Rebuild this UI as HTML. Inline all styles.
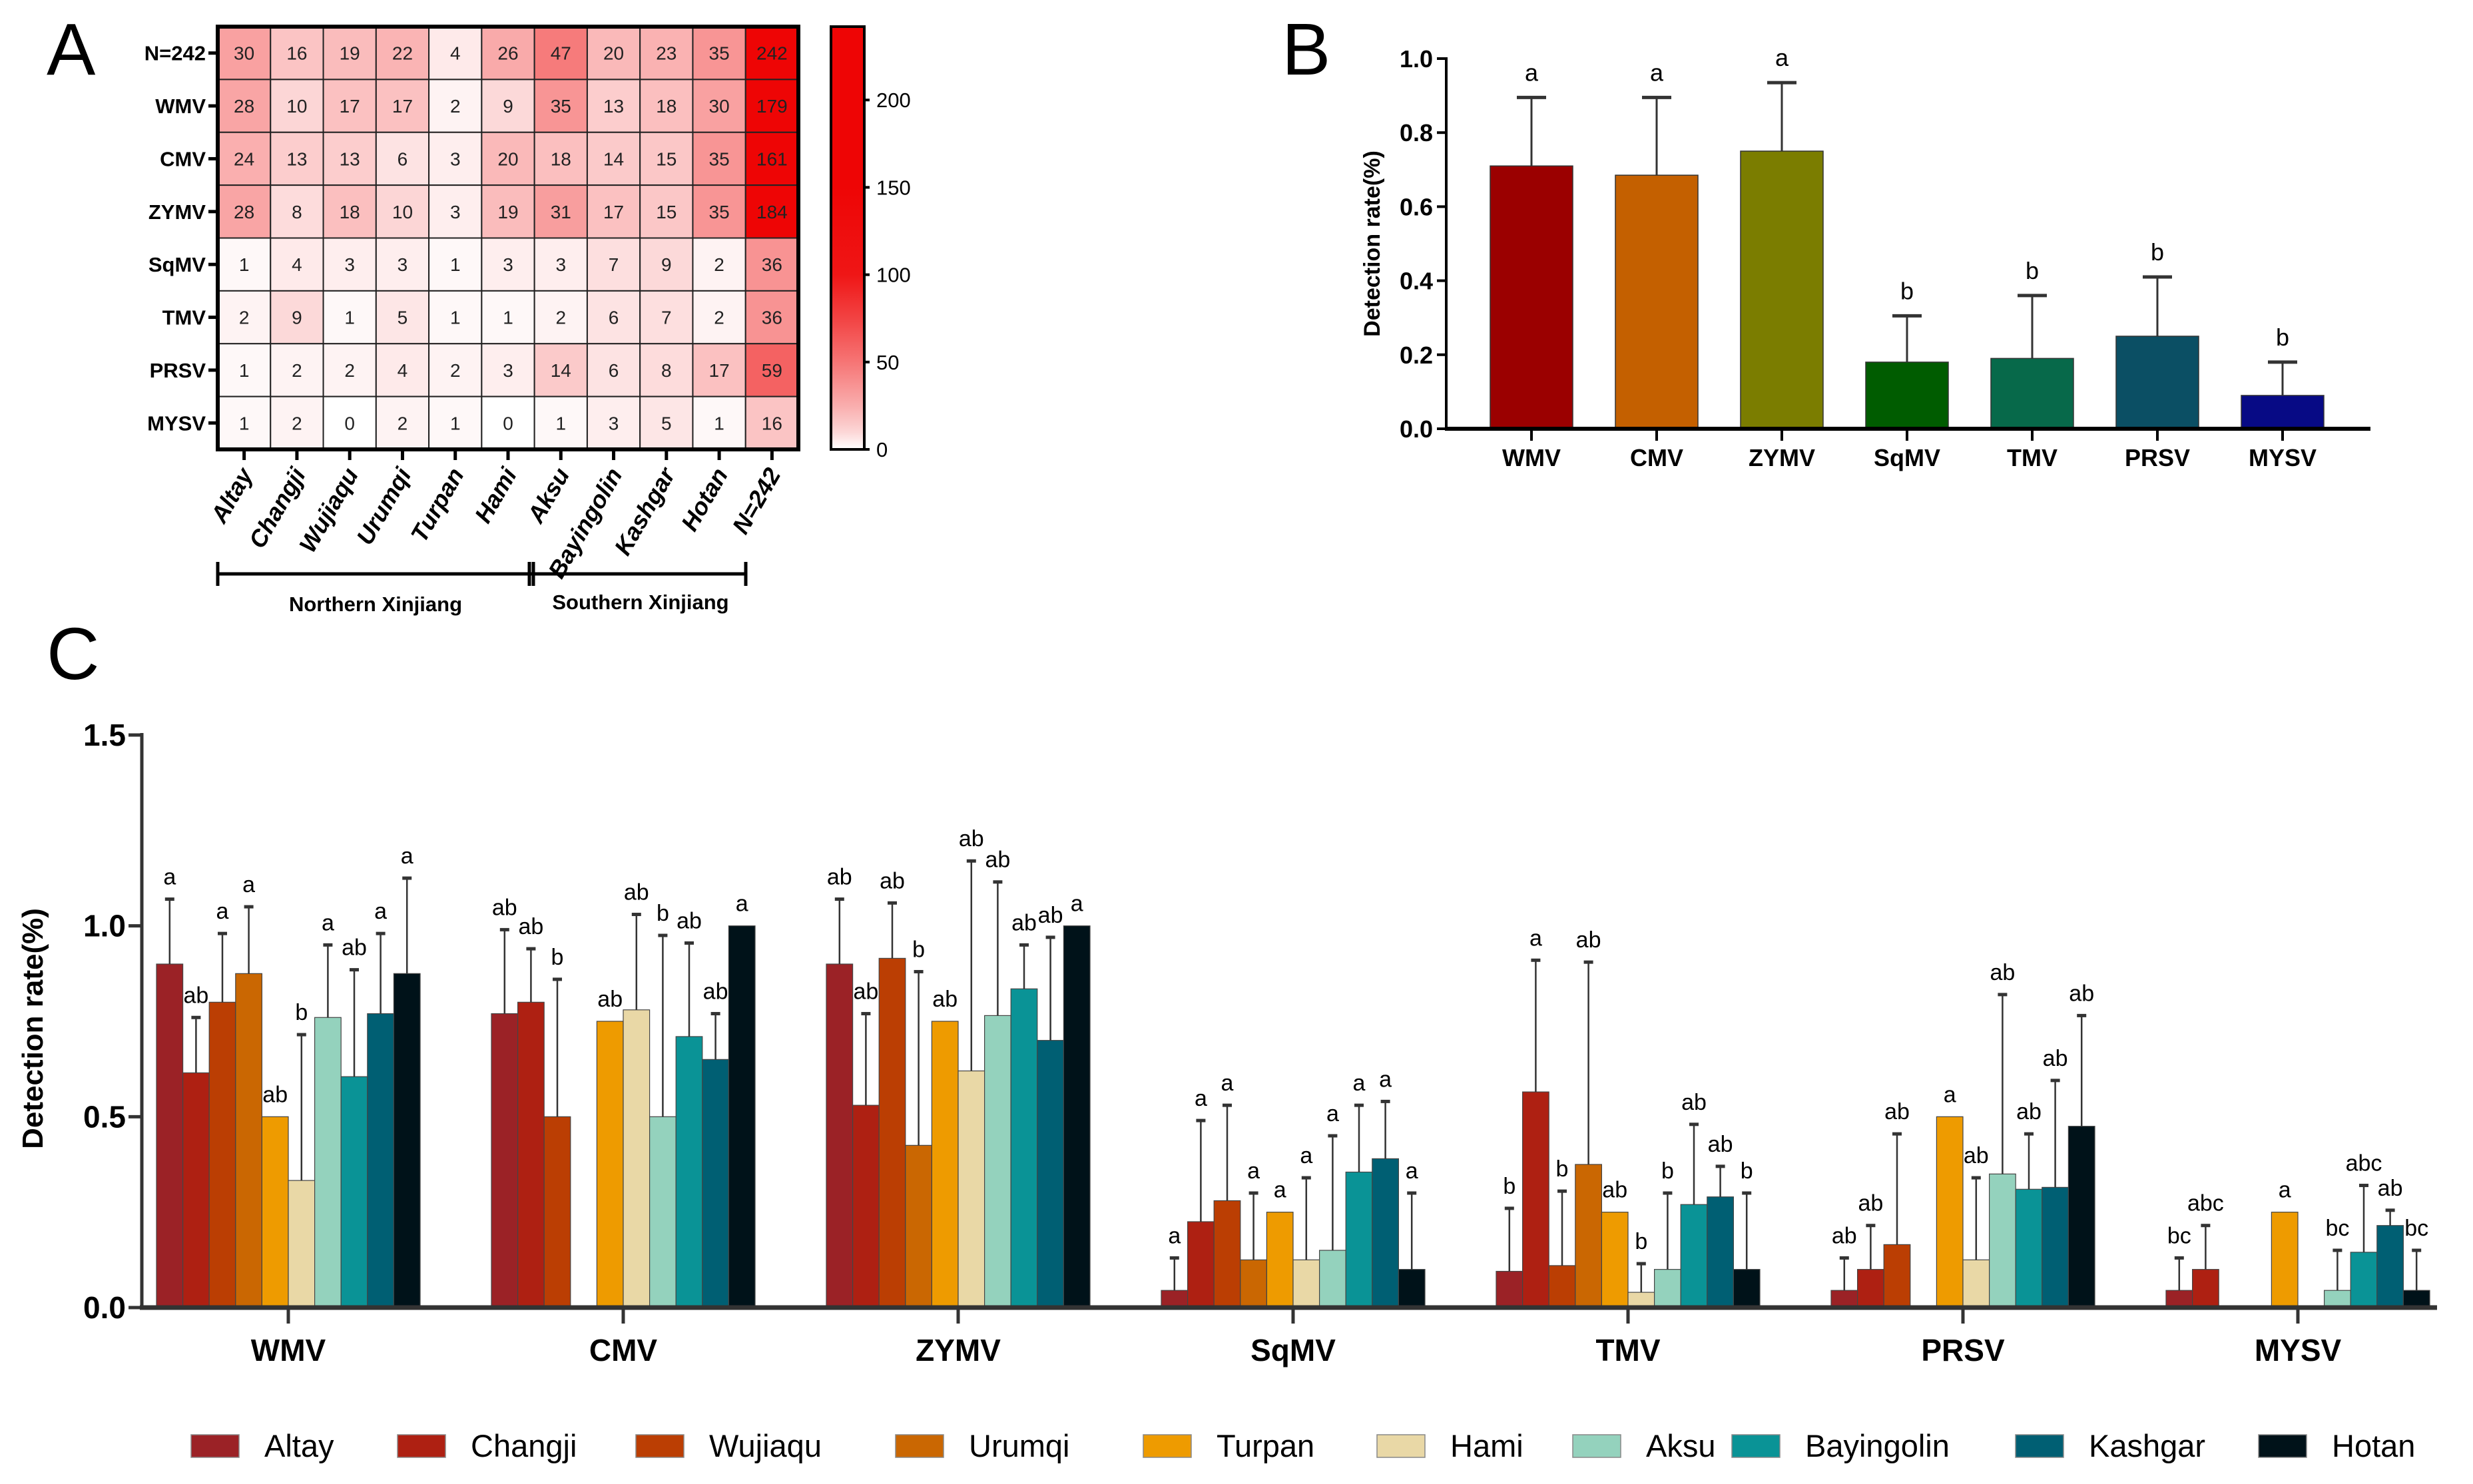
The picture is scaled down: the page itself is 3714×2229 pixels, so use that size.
<!DOCTYPE html>
<html><head><meta charset="utf-8">
<style>
html,body{margin:0;padding:0;background:#fff;}
svg{display:block;font-family:"Liberation Sans",sans-serif;}
</style></head>
<body>
<svg id="fig" width="3714" height="2229" viewBox="0 0 3714 2229" xmlns="http://www.w3.org/2000/svg">
<text x="70" y="112" font-size="110">A</text>
<text x="1925" y="112" font-size="110">B</text>
<text x="70" y="1020" font-size="110">C</text>
<g id="pa"></g>
<g id="pb"></g>
<g id="pc"></g>
</svg>
<script>
// ---------- Panel A data ----------
const hmRows = ["N=242","WMV","CMV","ZYMV","SqMV","TMV","PRSV","MYSV"];
const hmCols = ["Altay","Changji","Wujiaqu","Urumqi","Turpan","Hami","Aksu","Bayingolin","Kashgar","Hotan","N=242"];
const hmN    = [30,16,19,22,4,26,47,20,23,35,242];
const hmWMV  = [28,10,17,17,2,9,35,13,18,30,179];
const hmCMV  = [24,13,13,6,3,20,18,14,15,35,161];
const hmZYMV = [28,8,18,10,3,19,31,17,15,35,184];
const hmSqMV = [1,4,3,3,1,3,3,7,9,2,36];
const hmTMV  = [2,9,1,5,1,1,2,6,7,2,36];
const hmPRSV = [1,2,2,4,2,3,14,6,8,17,59];
const hmMYSV = [1,2,0,2,1,0,1,3,5,1,16];
const cbTicks = [0,50,100,150,200];

// ---------- Panel B data ----------
const bCats = ["WMV","CMV","ZYMV","SqMV","TMV","PRSV","MYSV"];
const bMean = [0.71,0.685,0.75,0.18,0.19,0.25,0.09];
const bErr  = [0.895,0.895,0.935,0.305,0.36,0.41,0.18];
const bSig  = ["a","a","a","b","b","b","b"];
const bTicks = [0,0.2,0.4,0.6,0.8,1.0];

// ---------- Panel C data ----------
const cCats = ["WMV","CMV","ZYMV","SqMV","TMV","PRSV","MYSV"];
const cRegions = ["Altay","Changji","Wujiaqu","Urumqi","Turpan","Hami","Aksu","Bayingolin","Kashgar","Hotan"];
const cWMV  = [0.90,0.615,0.80,0.875,0.50,0.333,0.76,0.605,0.77,0.875];
const cCMV  = [0.77,0.80,0.50,0,0.75,0.78,0.50,0.71,0.65,1.0];
const cZYMV = [0.90,0.53,0.915,0.425,0.75,0.62,0.765,0.835,0.70,1.0];
const cSqMV = [0.045,0.225,0.28,0.125,0.25,0.125,0.15,0.355,0.39,0.10];
const cTMV  = [0.095,0.565,0.11,0.375,0.25,0.04,0.10,0.27,0.29,0.10];
const cPRSV = [0.045,0.10,0.165,0,0.50,0.125,0.35,0.31,0.315,0.475];
const cMYSV = [0.045,0.10,0,0,0.25,0,0.045,0.145,0.215,0.045];
const eWMV  = [1.07,0.76,0.98,1.05,0,0.715,0.95,0.885,0.98,1.125];
const eCMV  = [0.99,0.94,0.86,0,0,1.03,0.975,0.955,0.77,0];
const eZYMV = [1.07,0.77,1.06,0.88,0,1.17,1.115,0.95,0.97,0];
const eSqMV = [0.13,0.49,0.53,0.30,0,0.34,0.45,0.53,0.54,0.30];
const eTMV  = [0.26,0.91,0.305,0.905,0,0.115,0.30,0.48,0.37,0.30];
const ePRSV = [0.13,0.215,0.455,0,0,0.34,0.82,0.455,0.595,0.765];
const eMYSV = [0.13,0.215,0,0,0,0,0.15,0.32,0.255,0.15];
const sWMV  = ["a","ab","a","a","ab","b","a","ab","a","a"];
const sCMV  = ["ab","ab","b","","ab","ab","b","ab","ab","a"];
const sZYMV = ["ab","ab","ab","b","ab","ab","ab","ab","ab","a"];
const sSqMV = ["a","a","a","a","a","a","a","a","a","a"];
const sTMV  = ["b","a","b","ab","ab","b","b","ab","ab","b"];
const sPRSV = ["ab","ab","ab","","a","ab","ab","ab","ab","ab"];
const sMYSV = ["bc","abc","","","a","","bc","abc","ab","bc"];
const cTicks = [0,0.5,1.0,1.5];

const NS="http://www.w3.org/2000/svg";
function mk(parent,tag,attrs,text){const e=document.createElementNS(NS,tag);for(const k in attrs)e.setAttribute(k,attrs[k]);if(text!==undefined)e.textContent=text;parent.appendChild(e);return e;}

// ===== Panel A =====
(function(){
  const g=document.getElementById('pa');
  const rows=[hmN,hmWMV,hmCMV,hmZYMV,hmSqMV,hmTMV,hmPRSV,hmMYSV];
  const x0=327,y0=40,cw=(1199-327)/hmCols.length,rh=(675-40)/hmRows.length;
  function col(v){let t=Math.min(1,v/110);t=Math.pow(t,0.75);
    const r=Math.round(255-(255-238)*t),gg=Math.round(255-255*t*0.98),b=Math.round(255-255*t*0.98);return `rgb(${r},${gg},${b})`;}
  rows.forEach((arr,i)=>{
    arr.forEach((v,j)=>{
      const c=mk(g,'rect',{x:x0+j*cw,y:y0+i*rh,width:cw,height:rh,fill:col(v),stroke:'#222','stroke-width':2});
      
      
      const t=mk(g,'text',{x:x0+j*cw+cw/2,y:y0+i*rh+rh/2+10,'font-size':28,'text-anchor':'middle',fill:'#222'},v);
      
      
    });
    const l=mk(g,'text',{x:x0-18,y:y0+i*rh+rh/2+11,'font-size':31,'font-weight':'bold','text-anchor':'end'},hmRows[i]);
    
    
    mk(g,'line',{x1:x0-14,x2:x0,y1:y0+i*rh+rh/2,y2:y0+i*rh+rh/2,stroke:'#000','stroke-width':5});
  });
  mk(g,'rect',{x:x0,y:y0,width:cw*hmCols.length,height:rh*hmRows.length,fill:'none',stroke:'#000','stroke-width':6});
  hmCols.forEach((c,j)=>{
    const cx=x0+j*cw+cw/2;
    mk(g,'line',{x1:cx,x2:cx,y1:y0+rh*8,y2:y0+rh*8+16,stroke:'#000','stroke-width':5});
    const t=mk(g,'text',{x:cx+14,y:712,'font-size':36,'font-weight':'bold','font-style':'italic','text-anchor':'end',transform:`rotate(-60 ${cx+14} 712)`},c);
    
    
  });
  // colorbar
  const defs=mk(g,'defs',{});
  const lg=mk(defs,'linearGradient',{id:'cbg',x1:0,y1:1,x2:0,y2:0});
  [0,10,25,50,75,100,150,242].forEach(v=>mk(lg,'stop',{offset:(v/242),'stop-color':col(v)}));
  const cb=mk(g,'rect',{x:1248,y:40,width:50,height:635,fill:'url(#cbg)',stroke:'#000','stroke-width':4});
  
  
  cbTicks.forEach(v=>{
    const y=675-v*(635/242);
    mk(g,'line',{x1:1298,x2:1306,y1:y,y2:y,stroke:'#000','stroke-width':4});
    const t=mk(g,'text',{x:1316,y:y+11,'font-size':31},v);
    
    
  });
  // region brackets
  mk(g,'line',{x1:327,x2:1120,y1:862,y2:862,stroke:'#000','stroke-width':5});
  [327,795,801,1120].forEach(x=>mk(g,'line',{x1:x,x2:x,y1:844,y2:880,stroke:'#000','stroke-width':5}));
  const n=mk(g,'text',{x:564,y:918,'font-size':31,'font-weight':'bold','text-anchor':'middle'},'Northern Xinjiang');
  
  const s=mk(g,'text',{x:962,y:915,'font-size':31,'font-weight':'bold','text-anchor':'middle'},'Southern Xinjiang');
  
})();

// ===== Panel B =====
(function(){
  const g=document.getElementById('pb');
  const ax=2172,y0=644,y1=88;
  const Y=v=>y0-(y0-y1)*v;
  const cols=["#9b0000","#c46000","#7b7d00","#005c00","#07694a","#0b4f64","#070a85"];
  bCats.forEach((c,i)=>{
    const cx=2300+i*188,w=124;
    const r=mk(g,'rect',{x:cx-w/2,y:Y(bMean[i]),width:w,height:y0-Y(bMean[i]),fill:cols[i],stroke:'#333','stroke-width':1.5});
    
    
    mk(g,'line',{x1:cx,x2:cx,y1:Y(bMean[i]),y2:Y(bErr[i]),stroke:'#333','stroke-width':3});
    mk(g,'line',{x1:cx-22,x2:cx+22,y1:Y(bErr[i]),y2:Y(bErr[i]),stroke:'#333','stroke-width':5});
    const s=mk(g,'text',{x:cx,y:Y(bErr[i])-25,'font-size':36,'text-anchor':'middle'},bSig[i]);
    
    
    mk(g,'line',{x1:cx,x2:cx,y1:y0,y2:y0+18,stroke:'#000','stroke-width':4});
    const t=mk(g,'text',{x:cx,y:700,'font-size':36,'font-weight':'bold','text-anchor':'middle'},c);
    
    
  });
  mk(g,'line',{x1:ax,x2:ax,y1:y1-2,y2:y0,stroke:'#000','stroke-width':4});
  mk(g,'line',{x1:ax-2,x2:3560,y1:y0,y2:y0,stroke:'#000','stroke-width':6});
  bTicks.forEach(v=>{
    mk(g,'line',{x1:ax-14,x2:ax,y1:Y(v),y2:Y(v),stroke:'#000','stroke-width':4});
    const t=mk(g,'text',{x:ax-20,y:Y(v)+13,'font-size':36,'font-weight':'bold','text-anchor':'end'},v.toFixed(1));
    
    
  });
  const yt=mk(g,'text',{x:2072,y:366,'font-size':34,'font-weight':'bold','text-anchor':'middle',transform:'rotate(-90 2072 366)'},'Detection rate(%)');
  
  
})();

// ===== Panel C =====
(function(){
  const g=document.getElementById('pc');
  const means=[cWMV,cCMV,cZYMV,cSqMV,cTMV,cPRSV,cMYSV];
  const errs=[eWMV,eCMV,eZYMV,eSqMV,eTMV,ePRSV,eMYSV];
  const sigs=[sWMV,sCMV,sZYMV,sSqMV,sTMV,sPRSV,sMYSV];
  const cols=["#9b2226","#ae2012","#bb3e03","#ca6702","#ee9b00","#e9d8a6","#94d2bd","#0a9396","#005f73","#001219"];
  const ax=213,y0=1964,y15=1104;
  const Y=v=>y0-(y0-y15)*v/1.5;
  const bw=39.6;
  cCats.forEach((c,i)=>{
    const gc=433+i*503;
    means[i].forEach((v,j)=>{
      const x=gc-5*bw+j*bw;
      if(v>0){
        const r=mk(g,'rect',{x:x,y:Y(v),width:bw,height:y0-Y(v),fill:cols[j],stroke:'#444','stroke-width':1.2});
        
        
      }
      let top=Y(v);
      if(errs[i][j]>v){
        const cx=x+bw/2;
        mk(g,'line',{x1:cx,x2:cx,y1:Y(v),y2:Y(errs[i][j]),stroke:'#333','stroke-width':2.5});
        mk(g,'line',{x1:cx-7,x2:cx+7,y1:Y(errs[i][j]),y2:Y(errs[i][j]),stroke:'#333','stroke-width':5});
        top=Y(errs[i][j]);
      }
      if(sigs[i][j]){
        const s=mk(g,'text',{x:x+bw/2,y:top-22,'font-size':34,'text-anchor':'middle'},sigs[i][j]);
        
        
      }
    });
    mk(g,'line',{x1:gc,x2:gc,y1:y0,y2:y0+24,stroke:'#333','stroke-width':5});
    const t=mk(g,'text',{x:gc,y:2044,'font-size':46,'font-weight':'bold','text-anchor':'middle'},c);
    
    
  });
  mk(g,'line',{x1:ax,x2:ax,y1:y15-3,y2:y0,stroke:'#333','stroke-width':5});
  mk(g,'line',{x1:ax-3,x2:3660,y1:y0,y2:y0,stroke:'#333','stroke-width':7});
  cTicks.forEach(v=>{
    mk(g,'line',{x1:ax-20,x2:ax,y1:Y(v),y2:Y(v),stroke:'#333','stroke-width':5});
    const t=mk(g,'text',{x:ax-24,y:Y(v)+16,'font-size':46,'font-weight':'bold','text-anchor':'end'},v.toFixed(1));
    
    
  });
  const yt=mk(g,'text',{x:64,y:1545,'font-size':44,'font-weight':'bold','text-anchor':'middle',transform:'rotate(-90 64 1545)'},'Detection rate(%)');
  
  
  // legend
  const lx=[287,597,955,1345,1717,2068,2362,2601,3027,3392];
  cRegions.forEach((r,j)=>{
    const sw=mk(g,'rect',{x:lx[j],y:2155,width:72,height:34,fill:cols[j],stroke:'#888','stroke-width':1.5});
    
    
    const t=mk(g,'text',{x:lx[j]+110,y:2188,'font-size':47},r);
    
    
  });
})();
</script>
</body></html>
